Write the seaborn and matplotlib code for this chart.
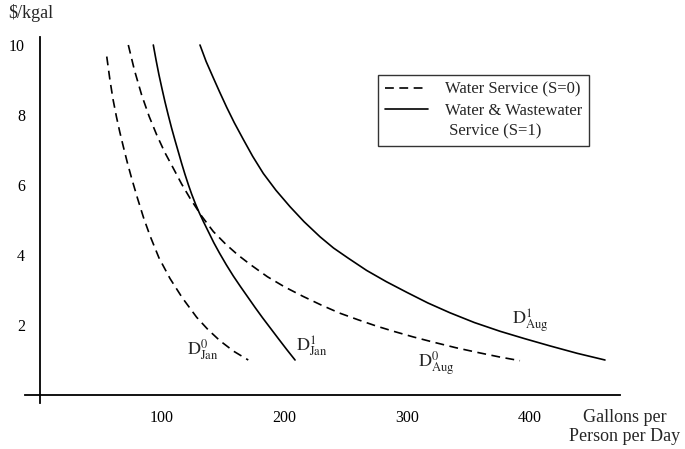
import numpy as np
import pandas as pd
import seaborn as sns
import matplotlib
matplotlib.use("Agg")
import matplotlib.pyplot as plt
from matplotlib.lines import Line2D

# ---- data (gallons/person/day, $/kgal) ----
jan0_x = [54.9, 57.5, 60.0, 62.8, 65.5, 68.4, 71.7, 75.3, 80.0, 85.0, 90.2, 97.5, 106.5,
          116.5, 128.3, 137.5, 147.3, 158.5, 170.4]
jan0_y = [9.67, 9.00, 8.45, 7.95, 7.52, 7.10, 6.64, 6.18, 5.62, 5.06, 4.55, 3.92, 3.33,
          2.78, 2.22, 1.87, 1.55, 1.25, 1.00]

aug0_x = [72.5, 77.5, 83.4, 89.5, 95.7, 102.3, 109.2, 116.0, 122.9, 132.4, 141.9, 152.0, 162.0,
          172.0, 186.0, 200.0, 215.0, 230.0, 245.0, 260.0, 275.0, 290.0, 305.0, 321.5, 340.0,
          357.0, 375.0, 392.2]
aug0_y = [10.0, 9.28, 8.57, 7.96, 7.43, 6.93, 6.48, 6.03, 5.62, 5.11, 4.67, 4.31, 4.00,
          3.73, 3.38, 3.09, 2.82, 2.57, 2.34, 2.15, 1.97, 1.81, 1.66, 1.51, 1.35,
          1.22, 1.09, 0.98]

jan1_x = [92.9, 95.2, 97.5, 100.0, 102.4, 105.0, 107.8, 110.5, 113.3, 116.0, 118.7, 121.5,
          124.2, 127.3, 130.5, 134.0, 137.8, 142.3, 147.0, 152.5, 158.2, 164.0, 170.0, 176.0,
          182.0, 188.5, 195.0, 201.8, 208.6]
jan1_y = [10.0, 9.56, 9.15, 8.75, 8.38, 8.01, 7.63, 7.29, 6.95, 6.62, 6.31, 6.01,
          5.74, 5.46, 5.20, 4.94, 4.67, 4.35, 4.05, 3.72, 3.40, 3.10, 2.80, 2.50,
          2.21, 1.91, 1.61, 1.30, 1.00]

aug1_x = [131.0, 136.0, 141.9, 147.0, 152.8, 159.0, 166.4, 174.0, 182.7, 193.0, 204.5, 216.0,
          229.0, 240.0, 252.0, 267.0, 283.0, 300.0, 317.0, 335.0, 355.0, 376.0, 396.0, 417.0,
          439.0, 461.6]
aug1_y = [10.0, 9.53, 9.06, 8.66, 8.22, 7.78, 7.30, 6.82, 6.33, 5.85, 5.38, 4.95,
          4.52, 4.20, 3.91, 3.56, 3.24, 2.93, 2.63, 2.35, 2.07, 1.82, 1.61, 1.40,
          1.19, 1.00]

service_labels = ["Water Service (S=0)", "Water & Wastewater", " Service (S=1)"]
x_ticks = [100, 200, 300, 400]
y_ticks = [2, 4, 6, 8, 10]

curves = [
    ("jan0", "S0", jan0_x, jan0_y),
    ("aug0", "S0", aug0_x, aug0_y),
    ("jan1", "S1", jan1_x, jan1_y),
    ("aug1", "S1", aug1_x, aug1_y),
]
frames = []
for name, serv, xs, ys in curves:
    frames.append(pd.DataFrame({"gpd": xs, "price": ys, "curve": name, "service": serv}))
df = pd.concat(frames, ignore_index=True)

# ---- style ----
sns.set_style("white")
plt.rcParams["font.family"] = ["Liberation Serif", "DejaVu Serif"]
plt.rcParams["mathtext.fontset"] = "stix"
plt.rcParams["font.size"] = 12

fig = plt.figure(figsize=(6.85, 4.49), dpi=100)
left_px, right_px = 24.8, 621.4
ax = fig.add_axes([left_px / 685, (449 - 409) / 449, (right_px - left_px) / 685, (409 - 31) / 449])

dash_pat = (5.3, 3.3)
lw = 1.2
sns.lineplot(data=df, x="gpd", y="price", units="curve", style="service",
             estimator=None, sort=False, color="black", linewidth=lw,
             dashes={"S0": dash_pat, "S1": ""},
             legend=False, ax=ax)

ax.set_xlim(-12, 475)
ax.set_ylim(-0.4, 10.4)

for s in ["top", "right"]:
    ax.spines[s].set_visible(False)
ax.spines["left"].set_position(("data", 0))
ax.spines["bottom"].set_position(("data", 0))
ax.spines["left"].set_bounds(-0.24, 10.23)
ax.spines["bottom"].set_bounds(-11.8, 474)
for s in ["left", "bottom"]:
    ax.spines[s].set_color("black")
    ax.spines[s].set_linewidth(1.3)

ax.set_xticks(x_ticks)
ax.set_yticks(y_ticks)
ax.set_xticklabels([str(v) for v in x_ticks])
ax.set_yticklabels([str(v) for v in y_ticks])
ax.tick_params(axis="both", direction="in", length=4.5, width=1.0, color="black",
               labelsize=11.5, labelcolor="black")
ax.tick_params(axis="x", pad=11)
ax.tick_params(axis="y", pad=10.5)
ax.set_xlabel("")
ax.set_ylabel("")

# curve labels
lab_fs = 13
ax.text(133.5, 1.31, r"$\mathrm{D}^{0}_{\mathrm{Jan}}$", fontsize=lab_fs, ha="center", va="center")
ax.text(222.4, 1.40, r"$\mathrm{D}^{1}_{\mathrm{Jan}}$", fontsize=lab_fs, ha="center", va="center")
ax.text(324.0, 0.90, r"$\mathrm{D}^{0}_{\mathrm{Aug}}$", fontsize=lab_fs, ha="center", va="center")
ax.text(400.8, 2.11, r"$\mathrm{D}^{1}_{\mathrm{Aug}}$", fontsize=lab_fs, ha="center", va="center")

# axis titles
fig.text(31 / 685, 1 - 13.5 / 449, r"\$/kgal", fontsize=13, ha="center", va="center")
fig.text(625 / 685, 1 - 427 / 449, "Gallons per\nPerson per Day", fontsize=13,
         ha="center", va="center", multialignment="center", linespacing=1.1)

# legend
handles = [Line2D([], [], color="black", linewidth=lw, linestyle=(0, dash_pat)),
           Line2D([], [], color="black", linewidth=lw, linestyle="-"),
           Line2D([], [], linestyle="none")]
leg = fig.legend(handles, service_labels, loc="upper left",
                 bbox_to_anchor=(378 / 685, 1 - 75 / 449), bbox_transform=fig.transFigure,
                 borderaxespad=0, borderpad=0.4, handlelength=2.6, handletextpad=1.0,
                 labelspacing=0.3, fontsize=12, frameon=True, fancybox=False, shadow=False)
leg.get_frame().set_edgecolor("black")
leg.get_frame().set_linewidth(1.0)
leg.get_frame().set_facecolor("white")

fig.savefig("out.png", dpi=100)
